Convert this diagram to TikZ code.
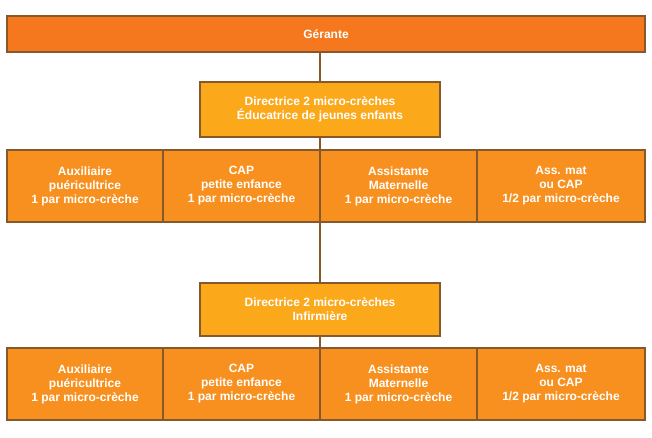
\documentclass[tikz,border=0pt]{standalone}
\usepackage{fontspec}
\setmainfont{Liberation Sans}
\begin{document}
\begin{tikzpicture}[x=1pt,y=-1pt,
 bx/.style={draw=brown!70!black,line width=1.5pt,text=white,font=\bfseries\fontsize{12}{14}\selectfont,align=center,inner sep=0pt},
 ln/.style={draw=brown!70!black,line width=1.5pt}]
\definecolor{g}{HTML}{F5781E}\definecolor{d}{HTML}{FBA81A}\definecolor{r}{HTML}{F7901E}
\useasboundingbox (0,0) rectangle (652,438);
\node[bx,fill=g,minimum width=638,minimum height=36] (ger) at (326,34) {Gérante};
\node[bx,fill=d,minimum width=240,minimum height=55] (d1) at (320,109.5) {Directrice 2 micro-crèches\\Éducatrice de jeunes enfants};
\node[bx,fill=d,minimum width=240,minimum height=53] (d2) at (320,309.5) {Directrice 2 micro-crèches\\Infirmière};
\foreach \r/\y in {a/186,b/384}{
\node[bx,fill=r,minimum width=156,minimum height=72] (\r1) at (85,\y) {Auxiliaire\\puéricultrice\\1 par micro-crèche};
\node[bx,fill=r,minimum width=157,minimum height=72] (\r2) at (241.5,\y) {CAP\\petite enfance\\1 par micro-crèche};
\node[bx,fill=r,minimum width=157,minimum height=72] (\r3) at (398.5,\y) {Assistante\\Maternelle\\1 par micro-crèche};
\node[bx,fill=r,minimum width=168,minimum height=72] (\r4) at (561,\y) {Ass. mat\\ou CAP\\1/2 par micro-crèche};
}
\draw[ln] (ger.south -| d1.north) -- (d1.north);
\draw[ln] (d1.south) -- (d1.south |- a2.north);
\draw[ln] (d1.south |- a2.south) -- (d2.north);
\draw[ln] (d2.south) -- (d2.south |- b2.north);
\end{tikzpicture}
\end{document}
